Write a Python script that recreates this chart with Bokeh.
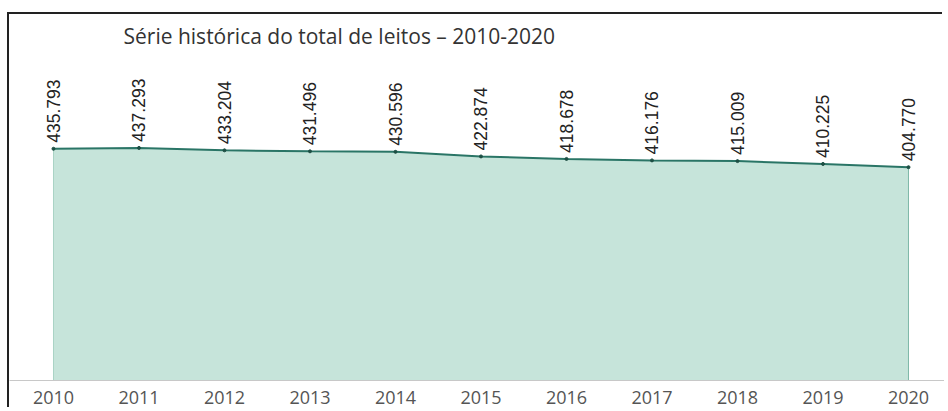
from bokeh.plotting import figure
from bokeh.models import ColumnDataSource, FixedTicker, Range1d
from bokeh.core.properties import value
from bokeh.embed import file_html
from bokeh.resources import INLINE

years = [2010, 2011, 2012, 2013, 2014, 2015, 2016, 2017, 2018, 2019, 2020]
leitos = [435793, 437293, 433204, 431496, 430596, 422874, 418678, 416176, 415009, 410225, 404770]
labels = ["435.793", "437.293", "433.204", "431.496", "430.596", "422.874",
          "418.678", "416.176", "415.009", "410.225", "404.770"]
year_labels = [str(y) for y in years]
title_text = "Série histórica do total de leitos – 2010-2020"

y_base = 45000
src = ColumnDataSource(dict(x=years, y=leitos, lab=labels, base=[y_base] * len(years)))

p = figure(width=935, height=395, output_backend="svg", toolbar_location=None,
           x_range=Range1d(2009.4854, 2020.4211), y_range=Range1d(y_base, 594800),
           y_axis_location=None, min_border_left=0, min_border_right=0,
           min_border_bottom=29, min_border_top=40)
p.styles = {"margin-left": "9px", "margin-top": "14px",
            "box-shadow": "-2px -2px 0 0 #222222"}

p.title.text = title_text
p.title.text_font = "Open Sans"
p.title.text_font_size = "21px"
p.title.text_font_style = "normal"
p.title.text_color = "#333333"
p.title.offset = 114
p.title.standoff = 10

p.varea(x="x", y1="base", y2="y", source=src, fill_color="#c6e4da", fill_alpha=1.0)
p.segment(x0=years[-1], y0=y_base, x1=years[-1], y1=leitos[-1], line_color="#7fb9a8", line_width=1)
p.segment(x0=years[0], y0=y_base, x1=years[0], y1=leitos[0], line_color="#a9d3c5", line_width=1)
p.line(x="x", y="y", source=src, line_color="#2a7566", line_width=2)
p.scatter(x="x", y="y", source=src, size=3, color="#1d4f44")

p.text(x="x", y="y", text="lab", source=src, angle=1.5708, y_offset=-6,
       text_align="left", text_baseline="middle", text_font=value("Liberation Sans"),
       text_font_size="17.5px", text_color="#222222")

p.xgrid.visible = False
p.ygrid.visible = False
p.outline_line_color = None
p.xaxis.ticker = FixedTicker(ticks=years)
p.xaxis.major_label_overrides = {y: s for y, s in zip(years, year_labels)}
p.xaxis.major_tick_line_color = None
p.xaxis.minor_tick_line_color = None
p.xaxis.axis_line_color = "#c8c8c8"
p.xaxis.axis_line_width = 1
p.xaxis.major_label_text_font = "Open Sans"
p.xaxis.major_label_text_font_size = "18px"
p.xaxis.major_label_text_color = "#555555"
p.xaxis.major_label_standoff = 4

open("out.html", "w").write(file_html(p, INLINE))
